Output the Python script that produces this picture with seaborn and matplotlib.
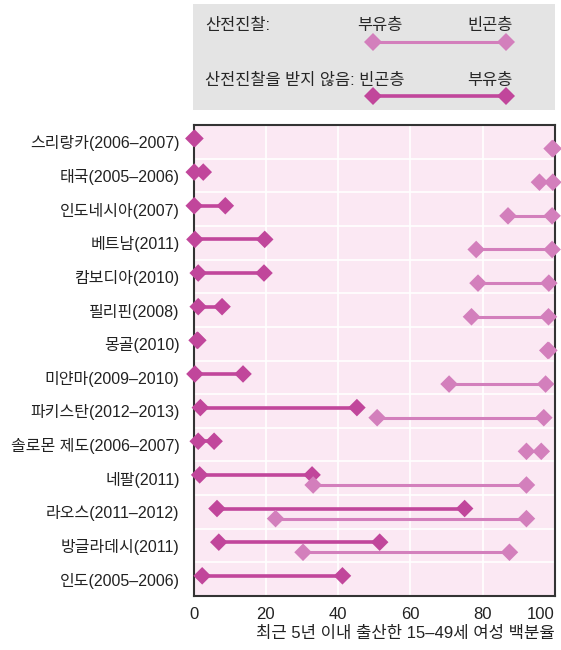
import numpy as np
import pandas as pd
import matplotlib
matplotlib.use("Agg")
import matplotlib.pyplot as plt
from matplotlib.ticker import FixedLocator
import seaborn as sns

# --- datos ---
countries = [
    "스리랑카(2006–2007)", "태국(2005–2006)", "인도네시아(2007)", "베트남(2011)",
    "캄보디아(2010)", "필리핀(2008)", "몽골(2010)", "미얀마(2009–2010)",
    "파키스탄(2012–2013)", "솔로몬 제도(2006–2007)", "네팔(2011)",
    "라오스(2011–2012)", "방글라데시(2011)", "인도(2005–2006)",
]
# 산전진찰을 받지 않음 (no ANC)
no_anc_poor = [0.4, 2.7, 8.8, 19.7, 19.5, 7.9, 1.2, 13.7, 45.2, 5.7, 32.8, 75.0, 51.5, 41.2]
no_anc_rich = [0.1, 0.2, 0.2, 0.4, 1.3, 1.3, 1.0, 0.4, 1.9, 1.3, 1.7, 6.5, 7.0, 2.4]
# 산전진찰 (ANC)
anc_rich = [99.5, 99.4, 99.2, 99.2, 98.3, 98.2, 98.3, 97.4, 96.9, 96.2, 92.1, 92.1, 87.4, np.nan]
anc_poor = [99.2, 95.7, 87.0, 78.2, 78.7, 76.9, 98.0, 70.7, 50.8, 92.1, 33.1, 22.7, 30.3, np.nan]

xticks = [0, 20, 40, 60, 80, 100]
xlabel = "최근 5년 이내 출산한 15–49세 여성 백분율"

dark = "#c1469b"
light = "#d37fbc"
bg = "#fbe8f3"

sns.set_style("white")
plt.rcParams["font.family"] = ["Liberation Sans", "Noto Sans CJK KR", "DejaVu Sans"]

# --- tabla larga ---
ypos = np.arange(len(countries))
rows = []
for i, c in enumerate(countries):
    rows.append((c, ypos[i] - 0.1, "no_anc", no_anc_poor[i]))
    rows.append((c, ypos[i] - 0.1, "no_anc", no_anc_rich[i]))
    rows.append((c, ypos[i] + 0.2, "anc", anc_poor[i]))
    rows.append((c, ypos[i] + 0.2, "anc", anc_rich[i]))
df = pd.DataFrame(rows, columns=["country", "y", "serie", "value"]).dropna()

fig = plt.figure(figsize=(5.61, 6.5), dpi=100)
ax = fig.add_axes([193.5 / 561, 1 - 596 / 650, (555 - 193.5) / 561, (596 - 125) / 650])
ax.set_facecolor(bg)

# líneas
ax.hlines(ypos + 0.2, anc_poor, anc_rich, color=light, lw=2.2, zorder=2)
ax.hlines(ypos - 0.1, no_anc_rich, no_anc_poor, color=dark, lw=2.6, zorder=3)

sns.scatterplot(data=df, x="value", y="y", hue="serie",
                palette={"no_anc": dark, "anc": light}, marker="D", s=80,
                linewidth=0, legend=False, ax=ax, zorder=4, clip_on=False)

ax.set_xlim(0, 100)
ax.set_ylim(len(countries) - 0.5, -0.5)
ax.set_xticks(xticks)
ax.set_yticks(ypos)
ax.set_yticklabels(countries, fontsize=11.5, color="#222222")
ax.yaxis.set_minor_locator(FixedLocator(ypos[:-1] + 0.5))
ax.tick_params(axis="y", which="major", length=0, pad=10)
ax.tick_params(axis="y", which="minor", direction="in", length=4, width=1, color="#333333")
ax.tick_params(axis="x", direction="in", length=4, width=1, color="#333333",
               labelsize=12, labelcolor="#222222", pad=8)
ax.get_xticklabels()[-1].set_horizontalalignment("right")
ax.grid(axis="x", which="major", color="white", lw=1.2)
ax.grid(axis="y", which="minor", color="white", lw=1.2)
ax.set_axisbelow(True)
for s in ax.spines.values():
    s.set_color("#333333")
    s.set_linewidth(1.5)
ax.set_xlabel(xlabel, fontsize=12, color="#222222", loc="right", labelpad=3)
ax.set_ylabel("")

# --- leyenda ---
lax = fig.add_axes([193 / 561, 1 - 110 / 650, (555 - 193) / 561, (110 - 4) / 650])
lax.set_facecolor("#e4e4e4")
for s in lax.spines.values():
    s.set_visible(False)
lax.set_xticks([])
lax.set_yticks([])
lax.set_xlim(0, 1)
lax.set_ylim(0, 1)
fs = 11.8
lax.text(0.033, 0.80, "산전진찰:", fontsize=fs, va="center", ha="left")
lax.text(0.517, 0.80, "부유층", fontsize=fs, va="center", ha="center")
lax.text(0.82, 0.80, "빈곤층", fontsize=fs, va="center", ha="center")
lax.plot([0.496, 0.865], [0.64, 0.64], color=light, lw=2.2, marker="D", ms=9,
         markeredgewidth=0)
lax.text(0.033, 0.283, "산전진찰을 받지 않음: 빈곤층", fontsize=fs, va="center", ha="left")
lax.text(0.82, 0.283, "부유층", fontsize=fs, va="center", ha="center")
lax.plot([0.496, 0.865], [0.132, 0.132], color=dark, lw=2.6, marker="D", ms=9,
         markeredgewidth=0)

fig.savefig("out.png", dpi=100)
